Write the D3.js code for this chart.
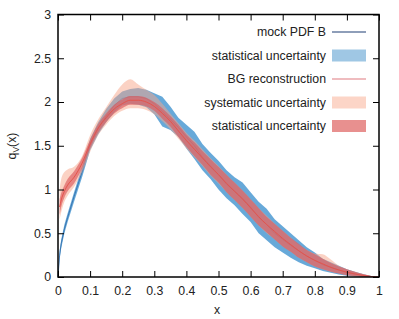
<!DOCTYPE html>
<html>
<head>
<meta charset="utf-8">
<script src="https://cdn.jsdelivr.net/npm/d3@7"></script>
<style>
  body { margin: 0; background: #fff; }
  text { font-family: "Liberation Sans", Arial, sans-serif; fill: #222; }
</style>
</head>
<body>
<svg id="chart" width="399" height="319"></svg>
<script>
// x grid shared by all curves
const xs = [0, 0.005, 0.01, 0.02, 0.03, 0.05,
  0.075, 0.1, 0.125, 0.15, 0.175, 0.2, 0.225, 0.25, 0.275, 0.3,
  0.325, 0.35, 0.375, 0.4, 0.425, 0.45, 0.475, 0.5,
  0.525, 0.55, 0.575, 0.6, 0.625, 0.65, 0.675, 0.7,
  0.725, 0.75, 0.775, 0.8, 0.825, 0.85, 0.875, 0.9,
  0.925, 0.95, 0.975, 1]

// mock PDF B and its statistical band
const mockPdf = [0, 0.25, 0.38, 0.55, 0.68, 0.92,
  1.2, 1.51, 1.7, 1.84, 1.96, 2.04, 2.06, 2.06, 2.04, 1.98,
  1.89, 1.8, 1.71, 1.6, 1.5, 1.37, 1.27, 1.17,
  1.06, 0.98, 0.9, 0.8, 0.68, 0.6, 0.5, 0.43,
  0.36, 0.3, 0.24, 0.19, 0.14, 0.11, 0.08, 0.05,
  0.033, 0.018, 0.006, 0]
const mockLo = [0, 0.2, 0.33, 0.5, 0.63, 0.86,
  1.14, 1.45, 1.63, 1.77, 1.88, 1.96, 1.98, 1.97, 1.94, 1.86,
  1.72, 1.68, 1.6, 1.47, 1.35, 1.22, 1.12, 1.0,
  0.9, 0.82, 0.72, 0.63, 0.5, 0.42, 0.34, 0.28,
  0.22, 0.17, 0.13, 0.1, 0.07, 0.05, 0.03, 0.015,
  0.008, 0.003, 0.001, 0]
const mockHi = [0, 0.3, 0.43, 0.6, 0.73, 0.97,
  1.26, 1.58, 1.77, 1.92, 2.04, 2.12, 2.15, 2.16, 2.14, 2.1,
  2.06, 1.95, 1.82, 1.74, 1.66, 1.52, 1.42, 1.33,
  1.22, 1.14, 1.08, 0.97, 0.86, 0.78, 0.66, 0.58,
  0.5, 0.42, 0.34, 0.28, 0.21, 0.17, 0.13, 0.09,
  0.06, 0.035, 0.012, 0]

// BG reconstruction, statistical and systematic bands (no value at x=0)
const bgMid = [null, 0.8, 0.88, 0.98, 1.05, 1.14,
  1.3, 1.52, 1.7, 1.82, 1.92, 1.98, 2.02, 2.02, 2.0, 1.95,
  1.87, 1.78, 1.67, 1.56, 1.46, 1.36, 1.26, 1.17,
  1.07, 0.98, 0.89, 0.79, 0.69, 0.6, 0.52, 0.44,
  0.37, 0.3, 0.24, 0.19, 0.15, 0.11, 0.08, 0.055,
  0.035, 0.018, 0.006, 0]
const bgStatErr = [null, 0.09, 0.08, 0.07, 0.07, 0.07,
  0.06, 0.05, 0.05, 0.05, 0.05, 0.05, 0.05, 0.05, 0.05, 0.05,
  0.06, 0.06, 0.07, 0.07, 0.08, 0.08, 0.09, 0.09,
  0.1, 0.1, 0.1, 0.1, 0.1, 0.09, 0.09, 0.09,
  0.08, 0.08, 0.07, 0.07, 0.06, 0.05, 0.04, 0.035,
  0.025, 0.015, 0.006, 0]
const bgSysLo = [null, 0.66, 0.74, 0.86, 0.93, 1.03,
  1.2, 1.43, 1.62, 1.74, 1.84, 1.9, 1.93, 1.93, 1.91, 1.86,
  1.78, 1.69, 1.58, 1.47, 1.37, 1.27, 1.16, 1.07,
  0.97, 0.88, 0.79, 0.69, 0.59, 0.5, 0.43, 0.35,
  0.29, 0.22, 0.17, 0.12, 0.09, 0.06, 0.04, 0.02,
  0.01, 0.004, 0.001, 0]
const bgSysHi = [null, 1.0, 1.12, 1.2, 1.23, 1.26,
  1.38, 1.62, 1.8, 1.94, 2.08, 2.2, 2.26, 2.2, 2.14, 2.08,
  1.98, 1.87, 1.76, 1.65, 1.56, 1.46, 1.36, 1.27,
  1.17, 1.08, 0.99, 0.89, 0.79, 0.7, 0.61, 0.53,
  0.45, 0.37, 0.31, 0.27, 0.26, 0.2, 0.13, 0.09,
  0.06, 0.035, 0.012, 0]

const xTicks = [0, 0.1, 0.2, 0.3, 0.4, 0.5, 0.6, 0.7, 0.8, 0.9, 1]
const yTicks = [0, 0.5, 1, 1.5, 2, 2.5, 3]

const legendItems = [
  {label: 'mock PDF B', kind: 'line', color: '#1f3f74'},
  {label: 'statistical uncertainty', kind: 'box', color: '#9fc7e4'},
  {label: 'BG reconstruction', kind: 'line', color: '#e07a80'},
  {label: 'systematic uncertainty', kind: 'box', color: '#fcd5c7'},
  {label: 'statistical uncertainty', kind: 'box', color: '#e8908f'}
]

let svg = d3.select('#chart')
let margin = {left: 58, right: 379, top: 14.5, bottom: 277}
let fontSize = '12.3px'

let x = d3.scaleLinear().domain([0, 1]).range([margin.left, margin.right])
let y = d3.scaleLinear().domain([0, 3]).range([margin.bottom, margin.top])

let rows = xs.map((d, i) => ({
  x: d, mock: mockPdf[i], mLo: mockLo[i], mHi: mockHi[i],
  bg: bgMid[i],
  sLo: bgMid[i] == null ? null : bgMid[i] - bgStatErr[i],
  sHi: bgMid[i] == null ? null : bgMid[i] + bgStatErr[i],
  yLo: bgSysLo[i], yHi: bgSysHi[i]
}))

let plot = svg.append('g')

// blue statistical band of the mock pdf
plot.append('path').datum(rows)
  .attr('fill', '#5aa2d6').attr('fill-opacity', 0.92)
  .attr('d', d3.area().x(d => x(d.x)).y0(d => y(d.mLo)).y1(d => y(d.mHi)))

// mock pdf line (mostly hidden under the bands)
plot.append('path').datum(rows)
  .attr('fill', 'none').attr('stroke', '#2f6aa8').attr('stroke-width', 0.8)
  .attr('d', d3.line().x(d => x(d.x)).y(d => y(d.mock)))

let bgRows = rows.filter(d => d.bg != null)

// systematic band (salmon, translucent)
plot.append('path').datum(bgRows)
  .attr('fill', '#f7a58a').attr('fill-opacity', 0.5)
  .attr('d', d3.area().x(d => x(d.x)).y0(d => y(d.yLo)).y1(d => y(d.yHi)).curve(d3.curveMonotoneX))

// red statistical band
plot.append('path').datum(bgRows)
  .attr('fill', '#dc5a5e').attr('fill-opacity', 0.65)
  .attr('d', d3.area().x(d => x(d.x)).y0(d => y(d.sLo)).y1(d => y(d.sHi)).curve(d3.curveMonotoneX))

// BG reconstruction line
plot.append('path').datum(bgRows)
  .attr('fill', 'none').attr('stroke', '#e4544c').attr('stroke-width', 1)
  .attr('d', d3.line().x(d => x(d.x)).y(d => y(d.bg)).curve(d3.curveMonotoneX))

// axes with inward ticks, mirrored on top/right
let fmt = d => String(d)
svg.append('g').attr('transform', 'translate(0,' + margin.bottom + ')')
  .call(d3.axisBottom(x).tickValues(xTicks).tickSizeInner(-6).tickSizeOuter(0).tickPadding(9).tickFormat(fmt))
svg.append('g').attr('transform', 'translate(0,' + margin.top + ')')
  .call(d3.axisTop(x).tickValues(xTicks).tickSizeInner(-6).tickSizeOuter(0).tickFormat(''))
svg.append('g').attr('transform', 'translate(' + margin.left + ',0)')
  .call(d3.axisLeft(y).tickValues(yTicks).tickSizeInner(-6).tickSizeOuter(0).tickPadding(7).tickFormat(fmt))
svg.append('g').attr('transform', 'translate(' + margin.right + ',0)')
  .call(d3.axisRight(y).tickValues(yTicks).tickSizeInner(-6).tickSizeOuter(0).tickFormat(''))

svg.selectAll('.domain').remove()
svg.selectAll('.tick line').attr('stroke', '#000').attr('stroke-width', 1)
svg.selectAll('.tick text').attr('font-size', fontSize).attr('fill', '#222')
  .attr('font-family', '"Liberation Sans", Arial, sans-serif')

// frame
svg.append('rect')
  .attr('x', margin.left).attr('y', margin.top)
  .attr('width', margin.right - margin.left).attr('height', margin.bottom - margin.top)
  .attr('fill', 'none').attr('stroke', '#000').attr('stroke-width', 1.5)

// legend
let lg = svg.append('g')
legendItems.forEach((d, i) => {
  let cy = 32 + i * 23.5
  lg.append('text')
    .attr('x', 326).attr('y', cy + 4.3)
    .attr('text-anchor', 'end').attr('font-size', fontSize)
    .text(d.label)
  if (d.kind == 'line') {
    lg.append('line')
      .attr('x1', 332).attr('x2', 366).attr('y1', cy).attr('y2', cy)
      .attr('stroke', d.color).attr('stroke-width', 1.2)
  } else {
    lg.append('rect')
      .attr('x', 332).attr('y', cy - 6).attr('width', 34).attr('height', 12)
      .attr('fill', d.color)
  }
})

// axis titles
svg.append('text')
  .attr('x', 217).attr('y', 314)
  .attr('text-anchor', 'middle').attr('font-size', fontSize)
  .text('x')

let yt = svg.append('text')
  .attr('transform', 'translate(16,146) rotate(-90)')
  .attr('text-anchor', 'middle').attr('font-size', fontSize)
yt.append('tspan').text('q')
yt.append('tspan').attr('font-size', '8.5px').attr('dy', 3).text('V')
yt.append('tspan').attr('dy', -3).text('(x)')
</script>
</body>
</html>
